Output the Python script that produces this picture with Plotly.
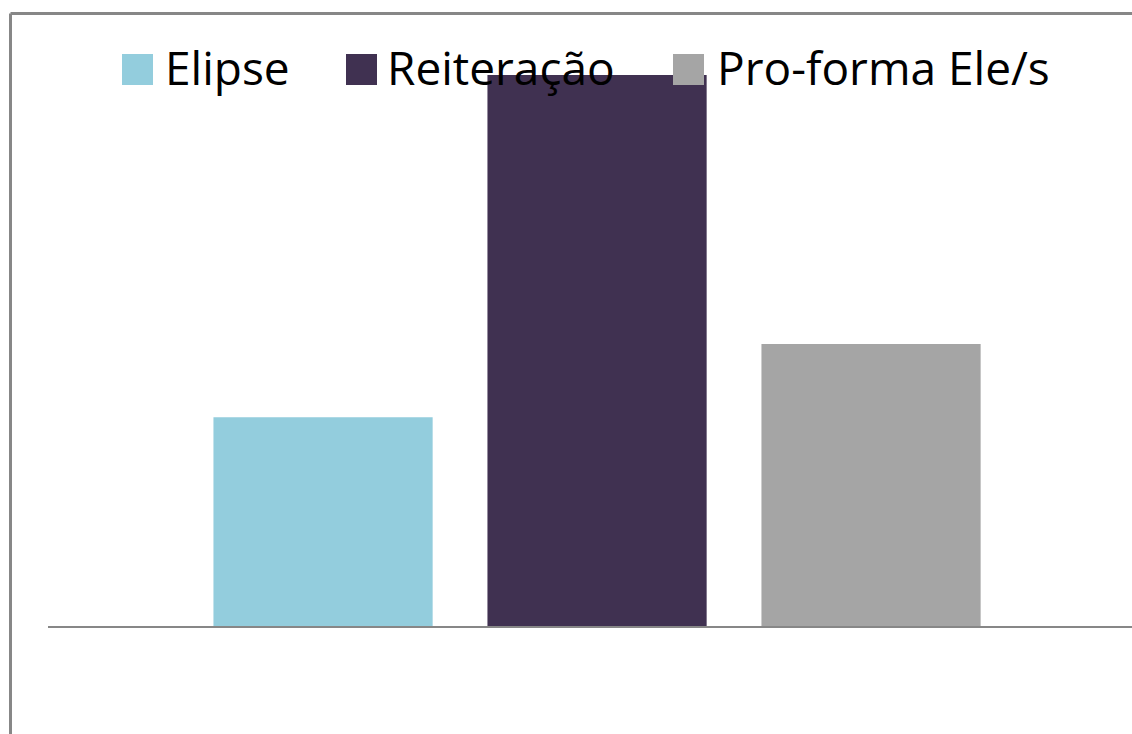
import plotly.graph_objects as go

categories = [""]
series_names = ["Elipse", "Reiteração", "Pro-forma Ele/s"]
series_values = [[37.9], [100.0], [51.2]]
series_colors = ["#93CDDD", "#403151", "#A5A5A5"]

W, H = 1132, 734
ml, mr, mt, mb = 48, 0, 20, 108
pw, ph = W - ml - mr, H - mt - mb

fig = go.Figure()
for name, vals, col in zip(series_names, series_values, series_colors):
    fig.add_trace(go.Bar(x=categories, y=vals, name=name, marker=dict(color=col, line=dict(width=0)),
                         showlegend=False, hoverinfo="skip"))

def px_x(p):
    return (p - ml) / pw

def px_y(p):
    return (H - mb - p) / ph

shapes = [
    # outer border (top and left)
    dict(type="line", xref="paper", yref="paper", x0=px_x(10.5), x1=px_x(1140), y0=px_y(13.5), y1=px_y(13.5),
         line=dict(color="#878787", width=3)),
    dict(type="line", xref="paper", yref="paper", x0=px_x(10.5), x1=px_x(10.5), y0=px_y(13.5), y1=px_y(740),
         line=dict(color="#878787", width=3)),
]

# custom legend
legend_swatch_x = [122, 346, 673]
legend_text_x = [166, 388, 718]
annotations = []
for name, col, sx, tx in zip(series_names, series_colors, legend_swatch_x, legend_text_x):
    shapes.append(dict(type="rect", xref="paper", yref="paper", x0=px_x(sx), x1=px_x(sx + 31),
                       y0=px_y(85), y1=px_y(54), fillcolor=col, line=dict(width=0), layer="above"))
    annotations.append(dict(xref="paper", yref="paper", x=px_x(tx - 3), y=px_y(67), xanchor="left", yanchor="middle",
                            text=name, showarrow=False, font=dict(family="Open Sans, sans-serif", size=46, color="#000000")))

fig.update_layout(
    width=W, height=H,
    margin=dict(l=ml, r=mr, t=mt, b=mb, pad=0),
    paper_bgcolor="white", plot_bgcolor="white",
    barmode="group", bargap=0.2417, bargroupgap=0.2,
    xaxis=dict(range=[-0.5065, 0.4935], showticklabels=False, showgrid=False, zeroline=False,
               showline=True, linecolor="#878787", linewidth=1.5, ticks=""),
    yaxis=dict(range=[0, 110], visible=False, showgrid=False, zeroline=False),
    shapes=shapes, annotations=annotations,
)

fig.write_html("out.html")
